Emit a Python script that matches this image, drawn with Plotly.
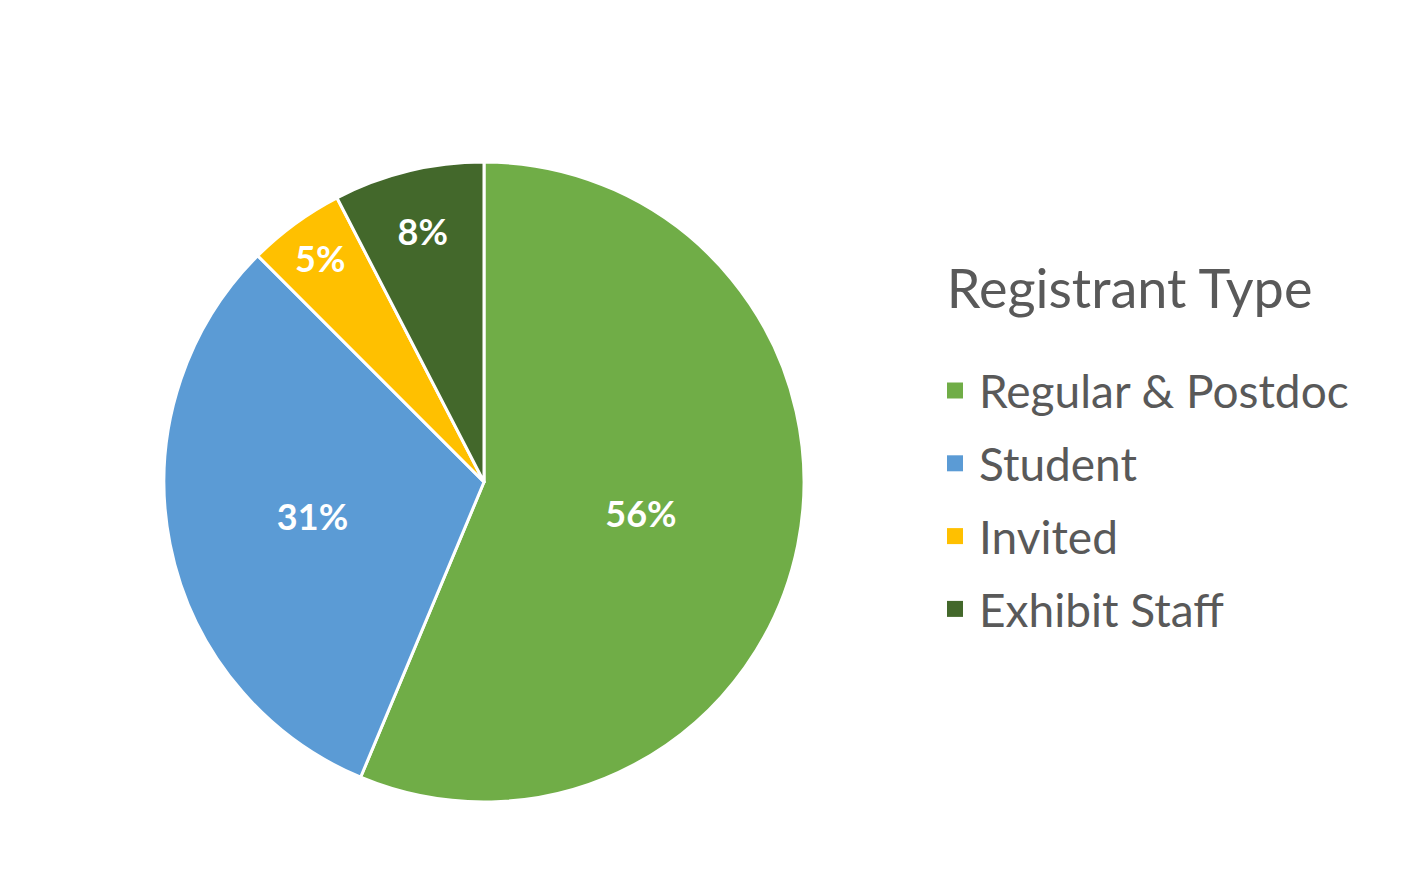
import plotly.graph_objects as go

categories = ["Regular & Postdoc", "Student", "Invited", "Exhibit Staff"]
values = [56.3, 31.2, 4.9, 7.6]
colors = ["#70AD47", "#5B9BD5", "#FFC000", "#43682B"]

W, H = 1421, 876
OFF = 8  # page body margin
cx, cy, r = 484 - OFF, 482 - OFF, 320

fig = go.Figure()
fig.add_trace(go.Pie(
    labels=categories,
    values=values,
    sort=False,
    direction="clockwise",
    rotation=0,
    marker=dict(colors=colors, line=dict(color="white", width=3)),
    texttemplate="%{percent:.0%}",
    textposition="inside",
    insidetextorientation="horizontal",
    textfont=dict(family="Lato", size=36, color="white", weight="bold"),
    hoverinfo="label+percent",
    showlegend=False,
    domain=dict(x=[(cx - r) / W, (cx + r) / W], y=[1 - (cy + r) / H, 1 - (cy - r) / H]),
))

# legend entries (one per category) with square swatches
for i, (name, col) in enumerate(zip(categories, colors)):
    extra = {}
    if i == 0:
        extra["legendgrouptitle"] = dict(text="\u00a0", font=dict(family="Lato", size=33, color="white"))
    fig.add_trace(go.Scatter(
        x=[None], y=[None], mode="markers", name=name, legendgroup=name,
        marker=dict(symbol="square", size=16, color=col),
        hoverinfo="skip", **extra,
    ))

fig.update_layout(
    width=W, height=H,
    margin=dict(l=0, r=0, t=0, b=0),
    paper_bgcolor="white",
    plot_bgcolor="white",
    showlegend=True,
    xaxis=dict(visible=False),
    yaxis=dict(visible=False),
    legend=dict(
        title=dict(text="\u00a0Registrant Type", font=dict(family="Lato", size=54, color="#595959")),
        font=dict(family="Lato", size=46, color="#595959"),
        x=(931 - OFF) / W, y=1 - (238 - OFF) / H, xanchor="left", yanchor="top",
        tracegroupgap=10,
        itemwidth=38,
        bgcolor="rgba(0,0,0,0)",
    ),
)

fig.write_html("out.html")
